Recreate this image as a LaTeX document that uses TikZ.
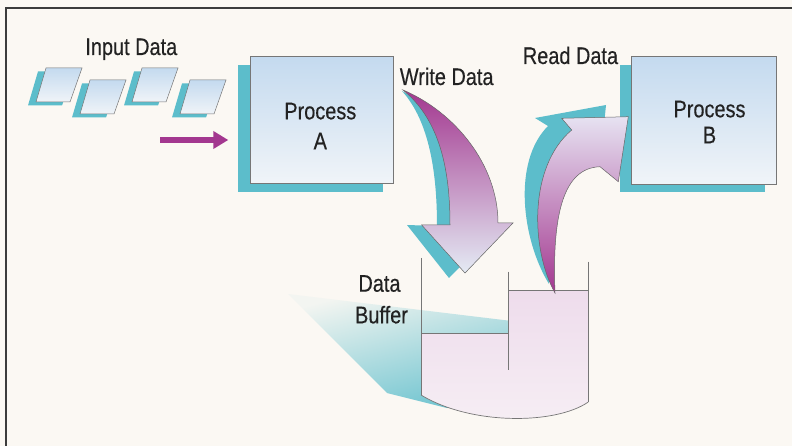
\documentclass[tikz,border=0pt]{standalone}
\usepackage{fontspec}
\setmainfont[FakeStretch=0.83,FakeBold=0.35]{Liberation Sans}
\usetikzlibrary{arrows.meta}
\definecolor{bg}{HTML}{FBF8F3}
\definecolor{shad}{HTML}{5CBDCB}
\definecolor{mag}{HTML}{A3378F}
\definecolor{lav}{HTML}{DCD6EC}
\definecolor{tipw}{HTML}{E4EBF4}
\definecolor{boxtop}{HTML}{C4DAEF}
\definecolor{boxbot}{HTML}{F0F4F8}
\definecolor{fluidtop}{HTML}{EEDCEC}
\definecolor{fluidbot}{HTML}{F6EEF4}
\definecolor{linegray}{HTML}{767676}
\definecolor{framec}{HTML}{3C3C3C}
\definecolor{txt}{HTML}{222222}
\tikzset{
  lbl/.style={font=\fontsize{24}{30}\selectfont, text=txt, inner sep=0pt, anchor=base},
  procbox/.style={draw=linegray, line width=0.6pt, top color=boxtop, bottom color=boxbot, inner sep=0pt},
  shadowfill/.style={fill=shad, draw=none},
  bufline/.style={draw=linegray, line width=0.7pt},
  arrowedge/.style={draw=black!60, line width=0.5pt},
  card/.pic={
    \fill[shad] (-8,3.5) -- (28,3.5) -- (16,37.5) -- (-18,37.5) -- cycle;
    \shade[draw=linegray, line width=0.5pt, top color=boxtop, bottom color=boxbot]
      (0,0) -- (36,0) -- (24,34) -- (-10,34) -- cycle;
  }
}
\begin{document}
\begin{tikzpicture}[x=1pt,y=-1pt]
\useasboundingbox (0,0) rectangle (792,446);
\fill[bg] (0,0) rectangle (792,446);
% frame
\draw[framec, line width=1.4pt] (5,8) -- (792,8);
\draw[framec, line width=1.4pt] (6,8) -- (6,446);

% buffer shadow
\shade[top color=shad!5!bg, middle color=shad!45!bg, bottom color=shad!90!bg, shading angle=15]
  (288,294) -- (520,322) -- (520,380) -- (447,408) -- (387,393) -- cycle;
% fluid
\shade[top color=fluidtop, bottom color=fluidbot]
  (421,333) -- (508.7,333) -- (508.7,290) -- (588.3,290) -- (588.3,402)
  .. controls (555,425) and (470,425) .. (421,395) -- cycle;
% buffer outline
\coordinate (lwt) at (421,258);
\coordinate (lwb) at (421,395);
\coordinate (rwt) at (588.3,261.7);
\coordinate (rwb) at (588.3,402);
\coordinate (dvt) at (508.7,271.7);
\coordinate (dvb) at (508.7,370);
\draw[bufline] (lwt) -- (lwb);
\draw[bufline] (rwt) -- (rwb);
\draw[bufline] (dvt) -- (dvb);
\draw[bufline] (rwb) .. controls (555,425) and (470,425) .. (lwb);
\draw[bufline] (421,333) -- (508.7,333);
\draw[bufline] (508.7,290) -- (588.3,290);

% process box shadows
\fill[shad] (238.3,65) rectangle (383,191.7);
\fill[shad] (620,65) rectangle (765,191.7);
% process boxes
\node[procbox, minimum width=143.3pt, minimum height=126.6pt] (boxA) at (321.65,120) {};
\node[procbox, minimum width=144.3pt, minimum height=127.3pt] (boxB) at (703.85,120.35) {};

% write arrow shadow
\fill[shad] (402,91) .. controls (450,115) and (486,165) .. (486,225)
  -- (500,226) -- (449,278) -- (407,225) -- (437,226)
  .. controls (437,175) and (430,122) .. (402,91) -- cycle;
% write arrow
\shade[arrowedge, top color=mag, middle color=mag!55!lav, bottom color=tipw]
  (403,90) .. controls (455,112) and (498,165) .. (498,223)
  -- (513,223) -- (465,273) -- (421.7,225) -- (450,225)
  .. controls (450,170) and (440,120) .. (403,90) -- cycle;

% read arrow shadow
\fill[shad] (549,284) .. controls (522,240) and (512,162) .. (548,126)
  -- (535,118) -- (606,105) -- (600,165) -- (585,152)
  .. controls (555,160) and (546,220) .. (549,284) -- cycle;
% read arrow
\shade[arrowedge, bottom color=mag, middle color=mag!55!lav, top color=lav!70!white]
  (555,293) .. controls (531,250) and (528,167) .. (571.7,130)
  -- (561.7,118.3) -- (628.3,116.7) -- (618.3,181.7) -- (600,166.7)
  .. controls (563,168) and (552,215) .. (555,293) -- cycle;

% input cards
\pic (c1) at (46,68) {card};
\pic (c2) at (90,80) {card};
\pic (c3) at (142,68) {card};
\pic (c4) at (190,80) {card};

% input arrow
\coordinate (inStart) at (160,140);
\coordinate (inEnd) at (228.3,140);
\draw[mag, line width=6pt, -{Triangle[length=15pt,width=17pt]}] (inStart) -- (inEnd);

% labels
\node[lbl] (inlbl) at (131.3,55) {Input Data};
\node[lbl] (wlbl) at (446.7,85) {Write Data};
\node[lbl] (rlbl) at (570.5,64) {Read Data};
\node[lbl] (tA1) at (320.3,119.3) {Process};
\node[lbl] (tA2) at (320.3,149.3) {A};
\node[lbl] (tB1) at (709.5,117.3) {Process};
\node[lbl] (tB2) at (709.5,143.3) {B};
\node[lbl] (d1) at (379.5,291.7) {Data};
\node[lbl] (d2) at (381.5,323.3) {Buffer};
\end{tikzpicture}
\end{document}
